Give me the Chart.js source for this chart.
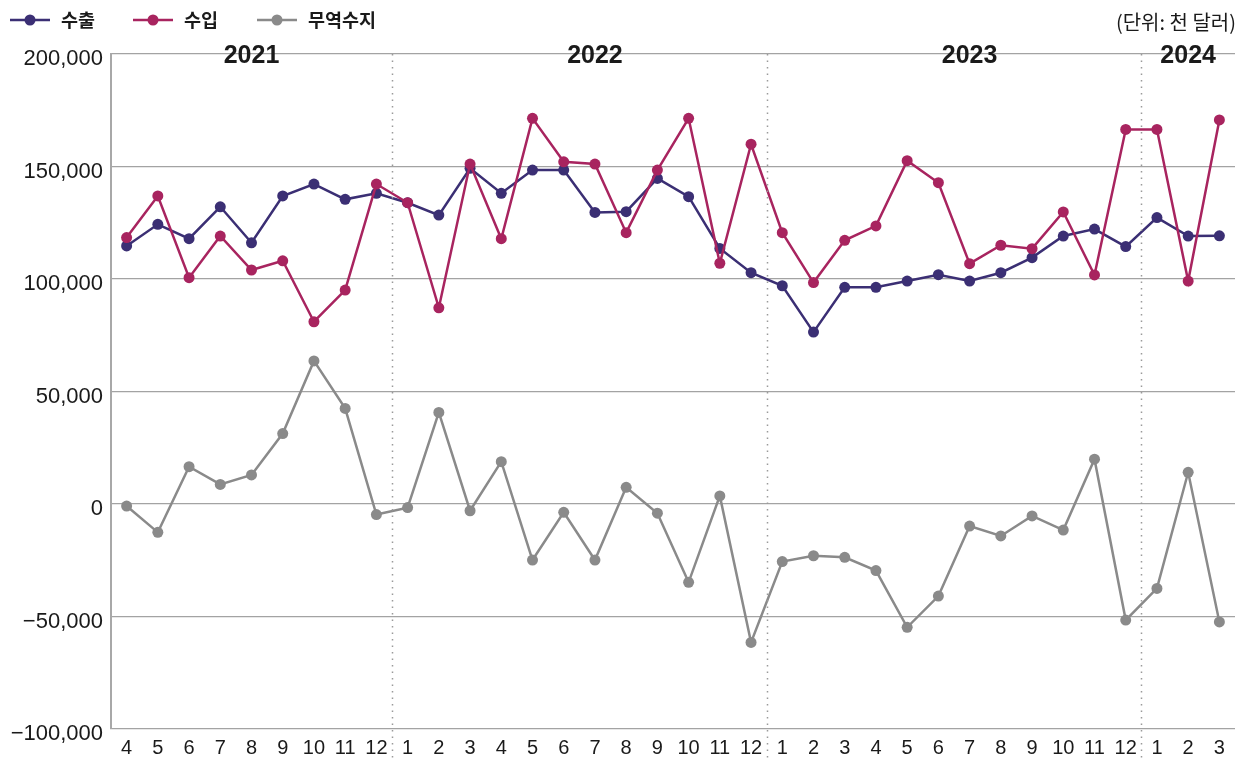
<!DOCTYPE html>
<html>
<head>
<meta charset="utf-8">
<script src="https://cdn.jsdelivr.net/npm/chart.js@4"></script>
<style>
  html, body { margin: 0; padding: 0; background: #fff; }
  #wrap { position: relative; width: 1248px; height: 760px; }
</style>
</head>
<body>
<div id="wrap"><canvas id="tradeChart" width="1248" height="760"></canvas></div>
<script>
// Months from 2021-4 to 2024-3
const months = [
  "4", "5", "6", "7", "8", "9", "10", "11", "12",
  "1", "2", "3", "4", "5", "6", "7", "8", "9", "10", "11", "12",
  "1", "2", "3", "4", "5", "6", "7", "8", "9", "10", "11", "12",
  "1", "2", "3",
];

// 수출 (천 달러)
const exportsData = [
  114700, 124300, 117900, 132100, 116100, 136900, 142200, 135400, 138100,
  133900, 128400, 149200, 138100, 148400, 148400, 129600, 129900, 144700, 136600, 113600, 102800,
  97000, 76400, 96300, 96300, 99100, 101900, 99100, 102800, 109500, 119100, 122200, 114400,
  127300, 119100, 119200,
];

// 수입 (천 달러)
const importsData = [
  118400, 136900, 100600, 119100, 104000, 108100, 81000, 95100, 142200,
  133900, 87200, 151100, 117900, 171400, 152100, 151100, 120600, 148400, 171400, 107000, 159900,
  120600, 98400, 117200, 123600, 152600, 142800, 106800, 115000, 113500, 129800, 101800, 166500,
  166500, 99100, 170700,
];

// 무역수지 (천 달러)
const balanceData = [
  -900, -12600, 16600, 8700, 12900, 31300, 63600, 42500, -4700,
  -1600, 40700, -3000, 18800, -24900, -3700, -24900, 7400, -4100, -34800, 3600, -61500,
  -25600, -23000, -23700, -29600, -54800, -40900, -9800, -14200, -5300, -11600, 19900, -51600,
  -37500, 14100, -52400,
];

// Year captions and the month index they sit over
const years = ["2021", "2022", "2023", "2024"];
const yearAt = [4, 15, 27, 34];
// Year breaks fall between these indices and the next
const yearBreaks = [8, 20, 32];

const colors = {
  exports: "#3b2f74",
  imports: "#a8245f",
  balance: "#8a8a8a",
  grid: "#a3a3a3",
  text: "#1a1a1a",
};

const fontSans = "'Liberation Sans', Arial, sans-serif";
const fontKr = "'Noto Sans CJK KR', 'Noto Sans', sans-serif";

function fmt(v) {
  const s = Math.abs(v).toLocaleString("en-US");
  return v < 0 ? "\u2212" + s : s;
}

// Dotted year separators, year captions, legend and unit label
const decorPlugin = {
  id: "decor",
  afterDatasetsDraw(chart) {
    const { ctx, chartArea, scales } = chart;
    const x = scales.x;

    ctx.save();
    ctx.strokeStyle = "#9a9a9a";
    ctx.lineWidth = 1.5;
    ctx.setLineDash([1.5, 5]);
    yearBreaks.forEach((i) => {
      const px = Math.round((x.getPixelForValue(i) + x.getPixelForValue(i + 1)) / 2) + 0.5;
      ctx.beginPath();
      ctx.moveTo(px, chartArea.top);
      ctx.lineTo(px, chart.height);
      ctx.stroke();
    });
    ctx.restore();

    ctx.save();
    ctx.fillStyle = colors.text;
    ctx.font = "bold 25px " + fontSans;
    ctx.textAlign = "center";
    ctx.textBaseline = "middle";
    years.forEach((y, i) => {
      ctx.fillText(y, x.getPixelForValue(yearAt[i]), chartArea.top + 2);
    });
    ctx.restore();

    // legend
    const items = [
      { label: "수출", color: colors.exports, x: 10 },
      { label: "수입", color: colors.imports, x: 133 },
      { label: "무역수지", color: colors.balance, x: 257 },
    ];
    ctx.save();
    items.forEach((it) => {
      ctx.strokeStyle = it.color;
      ctx.lineWidth = 2.5;
      ctx.beginPath();
      ctx.moveTo(it.x, 20);
      ctx.lineTo(it.x + 40, 20);
      ctx.stroke();
      ctx.fillStyle = it.color;
      ctx.beginPath();
      ctx.arc(it.x + 20, 20, 5.5, 0, Math.PI * 2);
      ctx.fill();
      ctx.fillStyle = colors.text;
      ctx.font = "bold 18.5px " + fontKr;
      ctx.textBaseline = "middle";
      ctx.textAlign = "left";
      ctx.fillText(it.label, it.x + 51, 20);
    });
    ctx.font = "20px " + fontKr;
    ctx.textAlign = "right";
    ctx.textBaseline = "middle";
    ctx.fillText("(단위: 천 달러)", 1236, 22);
    ctx.restore();
  },
};

function makeSet(label, data, color, order) {
  return {
    label: label,
    data: data,
    borderColor: color,
    backgroundColor: color,
    pointBackgroundColor: color,
    pointBorderWidth: 0,
    pointRadius: 5.5,
    borderWidth: 2.5,
    tension: 0,
    order: order,
  };
}

const ctx = document.getElementById("tradeChart");
new Chart(ctx, {
  type: "line",
  data: {
    labels: months,
    datasets: [
      makeSet("수출", exportsData, colors.exports, 1),
      makeSet("수입", importsData, colors.imports, 0),
      makeSet("무역수지", balanceData, colors.balance, 2),
    ],
  },
  options: {
    responsive: false,
    animation: false,
    devicePixelRatio: 1,
    layout: { padding: { top: 54, right: 13, left: 0, bottom: 0 } },
    plugins: {
      legend: { display: false },
      tooltip: { enabled: false },
    },
    scales: {
      x: {
        offset: true,
        grid: { display: false, drawTicks: false },
        border: { display: false },
        ticks: {
          color: colors.text,
          font: { size: 20, family: fontSans },
          padding: 7,
          maxRotation: 0,
          autoSkip: false,
        },
        afterFit(scale) {
          scale.height = 31;
        },
      },
      y: {
        min: -100000,
        max: 200000,
        grid: { color: colors.grid, lineWidth: 1.2, drawTicks: false },
        border: { color: "#a8a8a8", width: 2 },
        ticks: {
          stepSize: 50000,
          color: colors.text,
          font: { size: 22, family: fontSans },
          padding: 8,
          labelOffset: 5,
          callback: (v) => fmt(v),
        },
        afterFit(scale) {
          scale.width = 111;
        },
      },
    },
  },
  plugins: [decorPlugin],
});
</script>
</body>
</html>
